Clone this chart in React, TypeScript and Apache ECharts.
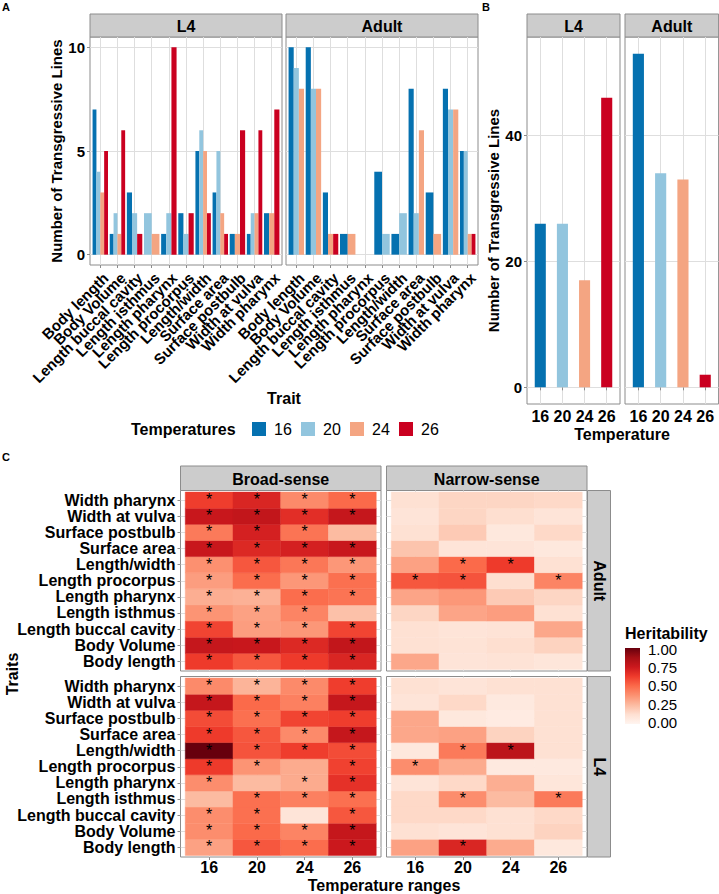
import React, { useEffect, useRef } from 'react';
import * as echarts from 'echarts';

// ---------------- DATA ----------------
const traits = ['Body length', 'Body Volume', 'Length buccal cavity', 'Length isthmus', 'Length pharynx', 'Length procorpus', 'Length/width', 'Surface area', 'Surface postbulb', 'Width at vulva', 'Width pharynx'];
const temperatures = ['16', '20', '24', '26'];
const stages = ['L4', 'Adult'];
const senses = ['Broad-sense', 'Narrow-sense'];

// Panel A: number of transgressive lines per trait (null = no bar)
const l4Lines16 = [7, 1, 3, null, 1, 2, 5, 3, 1, 1, 2];
const l4Lines20 = [4, 2, 2, 2, 2, 1, 6, 5, null, 2, null];
const l4Lines24 = [3, 1, null, 1, null, null, 5, 2, 1, 2, 2];
const l4Lines26 = [5, 6, 1, null, 10, 2, 2, 1, 6, 6, 7];
const adultLines16 = [10, 10, 3, 1, null, 4, 1, 8, 3, 8, 5];
const adultLines20 = [9, 8, null, null, null, 1, 2, 2, null, 7, 5];
const adultLines24 = [8, 8, 1, 1, null, null, null, 6, 1, 7, 1];
const adultLines26 = [null, null, 1, null, null, null, null, null, null, null, 1];

// Panel B: totals per temperature
const l4Totals = [26, 26, 17, 46];
const adultTotals = [53, 34, 33, 2];

// Panel C: heritability (rows follow `traits`, columns follow `temperatures`)
const broadAdult = [
  [0.63, 0.55, 0.63, 0.70], [0.77, 0.76, 0.69, 0.78], [0.60, 0.34, 0.36, 0.60], [0.37, 0.33, 0.42, 0.23],
  [0.29, 0.28, 0.49, 0.47], [0.34, 0.49, 0.36, 0.48], [0.38, 0.55, 0.46, 0.36], [0.76, 0.69, 0.72, 0.76],
  [0.45, 0.72, 0.47, 0.25], [0.76, 0.78, 0.67, 0.77], [0.62, 0.70, 0.40, 0.50],
];
const narrowAdult = [
  [0.31, 0.10, 0.11, 0.09], [0.12, 0.11, 0.13, 0.17], [0.12, 0.10, 0.11, 0.31], [0.16, 0.32, 0.34, 0.12],
  [0.32, 0.36, 0.20, 0.16], [0.55, 0.56, 0.13, 0.42], [0.33, 0.50, 0.63, 0.12], [0.22, 0.10, 0.10, 0.08],
  [0.12, 0.20, 0.08, 0.15], [0.10, 0.16, 0.13, 0.10], [0.12, 0.16, 0.16, 0.15],
];
const broadL4 = [
  [0.33, 0.55, 0.49, 0.75], [0.39, 0.50, 0.42, 0.77], [0.39, 0.48, 0.10, 0.55], [0.25, 0.48, 0.43, 0.48],
  [0.39, 0.25, 0.30, 0.66], [0.63, 0.37, 0.30, 0.61], [1.00, 0.56, 0.62, 0.58], [0.63, 0.55, 0.40, 0.77],
  [0.58, 0.48, 0.60, 0.62], [0.77, 0.50, 0.43, 0.77], [0.40, 0.27, 0.40, 0.62],
];
const narrowL4 = [
  [0.33, 0.70, 0.30, 0.08], [0.12, 0.10, 0.12, 0.17], [0.15, 0.15, 0.12, 0.15], [0.15, 0.39, 0.25, 0.45],
  [0.10, 0.15, 0.29, 0.09], [0.39, 0.30, 0.07, 0.07], [0.08, 0.45, 0.80, 0.12], [0.31, 0.33, 0.17, 0.12],
  [0.31, 0.08, 0.06, 0.12], [0.10, 0.15, 0.07, 0.12], [0.12, 0.10, 0.12, 0.12],
];
// significance stars (1 = star)
const broadAdultSig = [
  [1, 1, 1, 1], [1, 1, 1, 1], [1, 1, 1, 1], [1, 1, 1, 0], [1, 1, 1, 1], [1, 1, 1, 1],
  [1, 1, 1, 1], [1, 1, 1, 1], [1, 1, 1, 0], [1, 1, 1, 1], [1, 1, 1, 1],
];
const narrowAdultSig = [
  [0, 0, 0, 0], [0, 0, 0, 0], [0, 0, 0, 0], [0, 0, 0, 0], [0, 0, 0, 0], [1, 1, 0, 1],
  [0, 1, 1, 0], [0, 0, 0, 0], [0, 0, 0, 0], [0, 0, 0, 0], [0, 0, 0, 0],
];
const broadL4Sig = [
  [1, 1, 1, 1], [1, 1, 1, 1], [1, 1, 0, 1], [0, 1, 1, 1], [1, 0, 1, 1], [1, 1, 0, 1],
  [1, 1, 1, 1], [1, 1, 1, 1], [1, 1, 1, 1], [1, 1, 1, 1], [1, 1, 1, 1],
];
const narrowL4Sig = [
  [0, 1, 0, 0], [0, 0, 0, 0], [0, 0, 0, 0], [0, 1, 0, 1], [0, 0, 0, 0], [1, 0, 0, 0],
  [0, 1, 1, 0], [0, 0, 0, 0], [0, 0, 0, 0], [0, 0, 0, 0], [0, 0, 0, 0],
];

const countTicksA = [0, 5, 10];
const countTicksB = [0, 20, 40];
const heritabilityLabels = ['1.00', '0.75', '0.50', '0.25', '0.00'];

// ---------------- STYLE ----------------
const FONT = '"Liberation Sans", Arial, Helvetica, sans-serif';
const GRID_LINE = '#DEDEDE';
const BORDER = '#8C8C8C';
const STRIP_FILL = '#CCCCCC';
const tempColors = ['#0571B0', '#92C5DE', '#F4A582', '#CA0020'];
const reds = ['#FFF5F0', '#FEE0D2', '#FCBBA1', '#FC9272', '#FB6A4A', '#EF3B2C', '#CB181D', '#A50F15', '#67000D'];

const boxA = [
  { left: 90, top: 37, width: 192, height: 228 },
  { left: 286, top: 37, width: 192, height: 228 },
];
const boxB = [
  { left: 527, top: 37, width: 93, height: 367 },
  { left: 625, top: 37, width: 93.6, height: 367 },
];
const boxC = [
  { left: 180.5, top: 490.5, width: 200.5, height: 180.5 },
  { left: 386.5, top: 490.5, width: 200.5, height: 180.5 },
  { left: 180.5, top: 676.5, width: 200.5, height: 180.5 },
  { left: 386.5, top: 676.5, width: 200.5, height: 180.5 },
];
// band region of panel A (panel minus ggplot's 0.6-unit expansion + half band)
const bandBox = (b: any, n: number) => {
  const unit = b.width / (n + 0.2);
  return { left: b.left + 0.1 * unit, top: b.top, width: n * unit, height: b.height };
};

const positions = (n: number) => Array.from({ length: n }, (_, i) => i + 1);
const traitPos = positions(traits.length);
const tempPos = positions(temperatures.length);

const labelStyle = (size: number, bold = true) => ({
  fontSize: size,
  fontWeight: bold ? 'bold' : 'normal',
  color: '#000',
  fontFamily: FONT,
});

function xAxisDef(gridIndex: number, n: number, pos: number[], names: string[], show: boolean, extra: any = {}) {
  return {
    type: 'value', gridIndex, min: 0.4, max: n + 0.6,
    axisLine: { show: false },
    axisTick: { show, customValues: pos, length: 3, lineStyle: { color: BORDER } },
    axisLabel: {
      show, customValues: pos, margin: 4, hideOverlap: false,
      formatter: (v: number) => names[Math.round(v) - 1] ?? '',
      ...labelStyle(16), ...extra,
    },
    splitLine: { show: true, lineStyle: { color: GRID_LINE, width: 1 } },
  };
}

function yValueAxis(gridIndex: number, min: number, max: number, ticks: number[], show: boolean, name?: string, nameGap?: number) {
  return {
    type: 'value', gridIndex, min, max,
    axisLine: { show: false },
    axisTick: { show, customValues: ticks, length: 3, lineStyle: { color: BORDER } },
    axisLabel: { show, customValues: ticks, margin: 5, ...labelStyle(15) },
    splitLine: { show: true, lineStyle: { color: GRID_LINE, width: 1 } },
    name: name ?? '', nameLocation: 'middle', nameGap: nameGap ?? 20,
    nameTextStyle: labelStyle(15),
  };
}

function yTraitAxis(gridIndex: number, show: boolean) {
  return {
    type: 'value', gridIndex, min: 0.4, max: traits.length + 0.6,
    axisLine: { show: false },
    axisTick: { show, customValues: traitPos, length: 3, lineStyle: { color: BORDER } },
    axisLabel: {
      show, customValues: traitPos, margin: 5,
      formatter: (v: number) => traits[Math.round(v) - 1] ?? '',
      ...labelStyle(16),
    },
    splitLine: { show: true, lineStyle: { color: GRID_LINE, width: 1 } },
  };
}

// category axis used only for the rotated trait labels of panel A
function traitLabelAxis(gridIndex: number) {
  return {
    type: 'category', gridIndex, data: traits, boundaryGap: true,
    axisLine: { show: false },
    axisTick: { show: true, alignWithLabel: true, interval: 0, length: 3, lineStyle: { color: BORDER } },
    axisLabel: {
      interval: 0, rotate: 45, align: 'right', verticalAlign: 'top', margin: 5, hideOverlap: false,
      ...labelStyle(15),
    },
    splitLine: { show: false },
  };
}

// dodge like ggplot: bars share the 0.9 width among the groups present
function dodgedData(groups: (number | null)[][], t: number) {
  const out: number[][] = [];
  traits.forEach((_, i) => {
    const present = groups.map((g, k) => (g[i] != null ? k : -1)).filter((k) => k >= 0);
    const slot = present.indexOf(t);
    if (slot >= 0) out.push([i + 1, groups[t][i] as number, slot, present.length]);
  });
  return out;
}

const renderDodged = (params: any, api: any) => {
  const x = api.value(0), v = api.value(1), slot = api.value(2), n = api.value(3);
  const total = api.size([1, 0])[0] * 0.9;
  const w = total / n;
  const base = api.coord([x, 0]);
  const top = api.coord([x, v]);
  return {
    type: 'rect',
    shape: { x: base[0] - total / 2 + slot * w, y: top[1], width: w, height: base[1] - top[1] },
    style: { fill: api.visual('color') },
  };
};

const renderColumn = (params: any, api: any) => {
  const x = api.value(0), v = api.value(1);
  const w = api.size([1, 0])[0] * 0.5;
  const base = api.coord([x, 0]);
  const top = api.coord([x, v]);
  return {
    type: 'rect',
    shape: { x: base[0] - w / 2, y: top[1], width: w, height: base[1] - top[1] },
    style: { fill: api.visual('color') },
  };
};

const renderCell = (params: any, api: any) => {
  const c = api.coord([api.value(0), api.value(1)]);
  const s = api.size([1, 1]);
  const color = api.visual('color');
  const children: any[] = [{
    type: 'rect',
    shape: { x: c[0] - s[0] / 2, y: c[1] - s[1] / 2, width: s[0], height: s[1] },
    style: { fill: color, stroke: color, lineWidth: 0.5 },
  }];
  if (api.value(3)) {
    children.push({
      type: 'text', x: c[0], y: c[1] - 0.5,
      style: { text: '*', fill: '#000', fontSize: 16, fontFamily: FONT, align: 'center', verticalAlign: 'middle' },
    });
  }
  return { type: 'group', children };
};

function heatData(matrix: number[][], sig: number[][]) {
  const out: number[][] = [];
  matrix.forEach((row, r) => row.forEach((v, c) => out.push([c + 1, r + 1, v, sig[r][c]])));
  return out;
}

function txt(size: number, bold: boolean) {
  return { fontSize: size, fontWeight: bold ? 'bold' : 'normal', fontFamily: FONT, fill: '#000' };
}

function stripTop(box: any, y: number, h: number, label: string, size = 16) {
  return [
    { type: 'rect', shape: { x: box.left, y, width: box.width, height: h }, style: { fill: STRIP_FILL, stroke: BORDER, lineWidth: 1 } },
    { type: 'text', x: box.left + box.width / 2, y: y + h / 2 + 1, style: { text: label, ...txt(size, true), align: 'center', verticalAlign: 'middle' } },
  ];
}

function buildOption() {
  const panelGrids = [...boxA, ...boxB, ...boxC].map((b) => ({
    ...b, show: true, borderColor: BORDER, borderWidth: 1, backgroundColor: 'transparent', containLabel: false,
  }));
  const labelGrids = boxA.map((b) => ({ ...bandBox(b, traits.length), show: false, containLabel: false }));
  const grids = [...panelGrids, ...labelGrids];

  const xAxes: any[] = [
    xAxisDef(0, traits.length, traitPos, traits, false),
    xAxisDef(1, traits.length, traitPos, traits, false),
    xAxisDef(2, temperatures.length, tempPos, temperatures, true),
    xAxisDef(3, temperatures.length, tempPos, temperatures, true),
    xAxisDef(4, temperatures.length, tempPos, temperatures, false),
    xAxisDef(5, temperatures.length, tempPos, temperatures, false),
    xAxisDef(6, temperatures.length, tempPos, temperatures, true, { margin: 2 }),
    xAxisDef(7, temperatures.length, tempPos, temperatures, true, { margin: 2 }),
    traitLabelAxis(8),
    traitLabelAxis(9),
  ];
  const yAxes: any[] = [
    yValueAxis(0, -0.5, 10.5, countTicksA, true, 'Number of Transgressive Lines', 23),
    yValueAxis(1, -0.5, 10.5, countTicksA, false),
    yValueAxis(2, -2.65, 55.65, countTicksB, true, 'Number of Transgressive Lines', 26),
    yValueAxis(3, -2.65, 55.65, countTicksB, false),
    yTraitAxis(4, true),
    yTraitAxis(5, false),
    yTraitAxis(6, true),
    yTraitAxis(7, false),
    { type: 'value', gridIndex: 8, show: false },
    { type: 'value', gridIndex: 9, show: false },
  ];

  const aGroups = [
    [l4Lines16, l4Lines20, l4Lines24, l4Lines26],
    [adultLines16, adultLines20, adultLines24, adultLines26],
  ];
  const series: any[] = [];
  aGroups.forEach((groups, gi) => {
    temperatures.forEach((t, ti) => {
      series.push({
        type: 'custom', name: t, xAxisIndex: gi, yAxisIndex: gi,
        renderItem: renderDodged, encode: { x: 0, y: 1 },
        itemStyle: { color: tempColors[ti] },
        data: dodgedData(groups, ti),
      });
    });
  });
  [l4Totals, adultTotals].forEach((tot, gi) => {
    series.push({
      type: 'custom', xAxisIndex: 2 + gi, yAxisIndex: 2 + gi,
      renderItem: renderColumn, encode: { x: 0, y: 1 },
      data: tot.map((v, i) => ({ value: [i + 1, v], itemStyle: { color: tempColors[i] } })),
    });
  });
  const heatStart = series.length;
  const heatSets = [
    [broadAdult, broadAdultSig], [narrowAdult, narrowAdultSig],
    [broadL4, broadL4Sig], [narrowL4, narrowL4Sig],
  ];
  heatSets.forEach(([m, s], k) => {
    series.push({
      type: 'custom', xAxisIndex: 4 + k, yAxisIndex: 4 + k,
      renderItem: renderCell, encode: { x: 0, y: 1 },
      dimensions: ['x', 'y', 'h', 'sig'],
      data: heatData(m as number[][], s as number[][]),
    });
  });

  const graphic: any[] = [];
  // panel letters
  graphic.push({ type: 'text', x: 2, y: 1, style: { text: 'A', ...txt(11, true) } });
  graphic.push({ type: 'text', x: 482, y: 1, style: { text: 'B', ...txt(11, true) } });
  graphic.push({ type: 'text', x: 2, y: 451, style: { text: 'C', ...txt(11, true) } });
  // strips
  boxA.forEach((b, i) => graphic.push(...stripTop(b, 14, 23, stages[i])));
  boxB.forEach((b, i) => graphic.push(...stripTop(b, 14, 23, stages[i])));
  [boxC[0], boxC[1]].forEach((b, i) => graphic.push(...stripTop(b, 466, 24.5, senses[i])));
  [[boxC[1], 'Adult'], [boxC[3], 'L4']].forEach(([b, label]: any) => {
    graphic.push({ type: 'rect', shape: { x: b.left + b.width + 0.5, y: b.top, width: 23, height: b.height }, style: { fill: STRIP_FILL, stroke: BORDER, lineWidth: 1 } });
    graphic.push({ type: 'text', x: b.left + b.width + 12.5, y: b.top + b.height / 2, rotation: -Math.PI / 2, style: { text: label, ...txt(16, true), align: 'center', verticalAlign: 'middle' } });
  });
  // axis titles
  graphic.push({ type: 'text', x: 284, y: 398, style: { text: 'Trait', ...txt(16, true), align: 'center', verticalAlign: 'middle' } });
  graphic.push({ type: 'text', x: 622, y: 434, style: { text: 'Temperature', ...txt(16, true), align: 'center', verticalAlign: 'middle' } });
  graphic.push({ type: 'text', x: 384, y: 885.5, style: { text: 'Temperature ranges', ...txt(16, true), align: 'center', verticalAlign: 'middle' } });
  graphic.push({ type: 'text', x: 12, y: 674, rotation: Math.PI / 2, style: { text: 'Traits', ...txt(16, true), align: 'center', verticalAlign: 'middle' } });
  // temperature legend
  graphic.push({ type: 'text', x: 131, y: 429, style: { text: 'Temperatures', ...txt(16, true), align: 'left', verticalAlign: 'middle' } });
  temperatures.forEach((t, i) => {
    const kx = 252 + i * 49;
    graphic.push({ type: 'rect', shape: { x: kx, y: 422, width: 14, height: 14 }, style: { fill: tempColors[i] } });
    graphic.push({ type: 'text', x: kx + 22, y: 429, style: { text: t, ...txt(16, false), align: 'left', verticalAlign: 'middle' } });
  });
  // heritability legend
  graphic.push({ type: 'text', x: 625, y: 633, style: { text: 'Heritability', ...txt(16, true), align: 'left', verticalAlign: 'middle' } });
  graphic.push({
    type: 'rect', shape: { x: 625, y: 648, width: 15, height: 76 },
    style: {
      fill: new echarts.graphic.LinearGradient(0, 0, 0, 1,
        reds.slice().reverse().map((c, i) => ({ offset: i / (reds.length - 1), color: c }))),
    },
  });
  heritabilityLabels.forEach((l, i) => {
    graphic.push({ type: 'text', x: 648, y: 649.5 + i * 18.2, style: { text: l, ...txt(15, false), align: 'left', verticalAlign: 'middle' } });
  });

  return {
    animation: false,
    backgroundColor: '#ffffff',
    textStyle: { fontFamily: FONT },
    grid: grids,
    xAxis: xAxes,
    yAxis: yAxes,
    visualMap: {
      type: 'continuous', show: false, min: 0, max: 1, dimension: 2,
      seriesIndex: [heatStart, heatStart + 1, heatStart + 2, heatStart + 3],
      inRange: { color: reds },
    },
    series,
    graphic,
  };
}

export default function App() {
  const ref = useRef<HTMLDivElement>(null);
  useEffect(() => {
    if (!ref.current) return;
    const chart = echarts.init(ref.current, null, { renderer: 'svg' });
    chart.setOption(buildOption() as any);
    return () => chart.dispose();
  }, []);
  return <div ref={ref} style={{ position: 'absolute', left: 0, top: 0, width: 719, height: 894 }} />;
}
